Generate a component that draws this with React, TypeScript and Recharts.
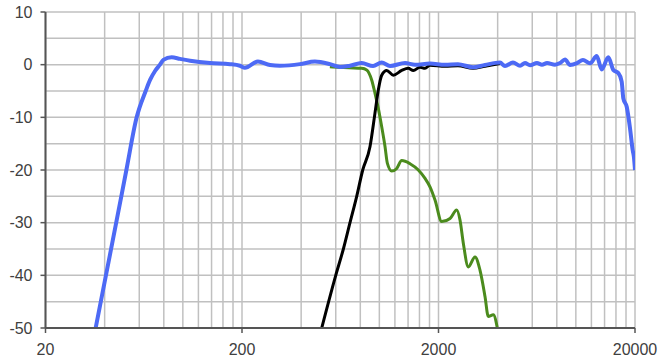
import React from 'react';
import { LineChart, Line, XAxis, YAxis, CartesianGrid } from 'recharts';

// frequency (Hz) / level (dB)
const blueFreq = [36, 40.6, 45.8, 51.6, 58.2, 64.7, 68.1, 72.2, 76.5, 79.6, 87.7, 96.7, 108.8, 137.5, 173.8, 195.3, 207, 241, 277.7, 312, 394.5, 470, 561, 630.7, 709, 813, 929, 1028, 1133, 1351, 1519, 1810, 2158, 2513, 2997, 3449, 4112, 4358, 4788, 5200, 5511, 5846, 6342, 6725, 7135, 7833, 8310, 8807, 9343, 10140, 10870, 11810, 12770, 13540, 14630, 15510, 16450, 17110, 17440, 18150, 18870, 19460, 19740, 20000];
const blueDb = [-50, -40, -30, -20, -10, -5, -2.9, -1.2, 0, 0.9, 1.4, 1.1, 0.75, 0.3, 0.1, -0.2, -0.6, 0.6, -0.05, -0.2, 0.1, 0.6, 0.1, -0.45, -0.2, 0.3, -0.25, 0.4, -0.25, 0.3, 0, 0.2, 0, 0.1, -0.5, -0.05, 0.4, -0.25, 0.4, -0.2, 0.3, -0.1, 0.3, 0, 0.3, 0, 0.3, 1.0, -0.05, 0.3, 0.9, 0.25, 1.65, -0.9, 1.4, -1.0, -1.6, -3.2, -6.4, -8, -12.1, -16.2, -17.5, -20];

const greenFreq = [560, 700, 813, 862, 914, 950, 988, 1028, 1069, 1098, 1156, 1226, 1300, 1432, 1579, 1708, 1810, 1920, 2076, 2290, 2476, 2573, 2675, 2836, 3068, 3252, 3449, 3584, 3802, 3985];
const greenDb = [-0.4, -0.6, -0.7, -1.0, -2.9, -5.4, -8.3, -11.8, -15.6, -18.7, -20.2, -19.7, -18.2, -18.8, -20, -21.6, -23.2, -25.7, -29.8, -29.2, -27.6, -29.5, -33.9, -38.4, -36.5, -39, -44, -47.8, -47.5, -50];

const blackFreq = [509, 600, 656, 709, 767, 823, 896, 950, 988, 1028, 1090, 1178, 1300, 1404, 1489, 1610, 1708, 1810, 2158, 2513, 2997, 3449, 4112];
const blackDb = [-50, -40, -35, -30, -25, -20, -15.6, -9.2, -4.8, -2.0, -1.1, -2.0, -1.1, -0.7, -1.1, -0.5, -0.7, -0.1, -0.3, -0.2, -0.7, -0.3, 0.2];

const xTicks = [20, 40, 60, 80, 100, 120, 140, 160, 180, 200, 400, 600, 800, 1000, 1200, 1400, 1600, 1800, 2000, 4000, 6000, 8000, 10000, 12000, 14000, 16000, 18000, 20000];
const xLabels = [20, 200, 2000, 20000];
const yTicks = [-50, -45, -40, -35, -30, -25, -20, -15, -10, -5, 0, 5, 10];

const zip = (f: number[], d: number[]) => f.map((v, i) => ({ f: v, db: d[i] }));
const blue = zip(blueFreq, blueDb);
const green = zip(greenFreq, greenDb);
const black = zip(blackFreq, blackDb);

const font = { fontFamily: '"Liberation Sans", Arial, sans-serif', fontSize: 16, fill: '#404040' };

const XTick = (props: any) => {
  const { x, y, payload } = props;
  if (!xLabels.includes(payload.value)) return null;
  return (
    <g>
      <line x1={x} x2={x} y1={y - 8} y2={y - 3} stroke="#555" strokeWidth={1.5} />
      <text x={x} y={y + 19} textAnchor="middle" {...font}>{payload.value}</text>
    </g>
  );
};

const YTick = (props: any) => {
  const { x, y, payload } = props;
  if (payload.value % 10 !== 0) return null;
  return (
    <g>
      <line x1={x + 3} x2={x + 8} y1={y} y2={y} stroke="#555" strokeWidth={1.5} />
      <text x={x - 5} y={y + 5.5} textAnchor="end" {...font}>{payload.value}</text>
    </g>
  );
};

const App = () => {
  return (
    <div style={{ position: 'absolute', left: 0, top: 0 }}>
      <LineChart width={660} height={362} margin={{ top: 12, right: 25, bottom: 0, left: 0 }}>
        <CartesianGrid stroke="#c0c0c0" strokeWidth={1.5} />
        <XAxis
          type="number"
          dataKey="f"
          scale="log"
          domain={[20, 20000]}
          ticks={xTicks}
          interval={0}
          height={34}
          allowDataOverflow
          tickLine={false}
          tick={<XTick />}
          axisLine={{ stroke: '#555', strokeWidth: 2 }}
        />
        <YAxis
          type="number"
          domain={[-50, 10]}
          ticks={yTicks}
          interval={0}
          width={45.5}
          allowDataOverflow
          tickLine={false}
          tick={<YTick />}
          axisLine={{ stroke: '#555', strokeWidth: 2 }}
        />
        <Line data={green} dataKey="db" type="monotone" stroke="#4b8b1d" strokeWidth={3} dot={false} isAnimationActive={false} />
        <Line data={black} dataKey="db" type="monotone" stroke="#000000" strokeWidth={3} dot={false} isAnimationActive={false} />
        <Line data={blue} dataKey="db" type="monotone" stroke="#4d6af5" strokeWidth={4} dot={false} isAnimationActive={false} />
      </LineChart>
    </div>
  );
};

export default App;
